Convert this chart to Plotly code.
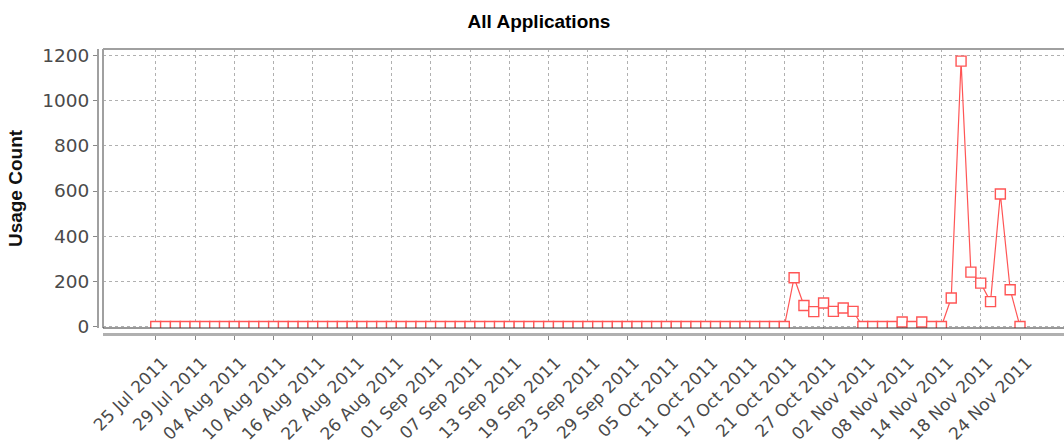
import pandas as pd
import plotly.graph_objects as go

# Weekday categories, 25 Jul 2011 .. 24 Nov 2011
dates = [d.strftime("%d %b %Y") for d in pd.bdate_range("2011-07-25", "2011-11-24")]

usage = [
    0, 0, 0, 0, 0, 0, 0, 0, 0, 0,
    0, 0, 0, 0, 0, 0, 0, 0, 0, 0,
    0, 0, 0, 0, 0, 0, 0, 0, 0, 0,
    0, 0, 0, 0, 0, 0, 0, 0, 0, 0,
    0, 0, 0, 0, 0, 0, 0, 0, 0, 0,
    0, 0, 0, 0, 0, 0, 0, 0, 0, 0,
    0, 0, 0, 0, 0,
    216, 93, 66, 104, 67, 82, 67,
    0, 0, 0, 0, 20, 0, 20, 0, 0,
    126, 1175, 241, 192, 110, 587, 163, 0,
]

title_text = "All Applications"
y_title = "Usage Count"
y_ticks = [0, 200, 400, 600, 800, 1000, 1200]

RED = "#FF5555"
GRID = "#b0b0b0"

W, H = 1064, 445
ml, mt, mb = 98, 49, 111
plot_left, plot_bottom = 103, 328
paper_w = W - ml
paper_h = H - mt - mb

fig = go.Figure()
fig.add_trace(go.Scatter(
    x=dates, y=usage, mode="lines+markers",
    line=dict(color=RED, width=1.2),
    marker=dict(symbol="square", size=10, color="white",
                line=dict(color=RED, width=1.4)),
    showlegend=False, cliponaxis=True,
))

x_tick_font = dict(family="DejaVu Sans", size=17, color="#4a4a4a")
y_tick_font = dict(family="DejaVu Sans", size=18.5, color="#4a4a4a")

fig.update_layout(
    template="none",
    width=W, height=H,
    margin=dict(l=ml, r=0, t=mt, b=mb, pad=0),
    paper_bgcolor="white", plot_bgcolor="white",
    title=dict(text=title_text, x=539 / W, xref="container", xanchor="center",
               y=1 - 21 / H, yref="container", yanchor="middle",
               font=dict(family="Liberation Sans", size=19, color="#000000",
                         weight="bold")),
    xaxis=dict(
        type="category",
        domain=[(plot_left - ml) / paper_w, 1],
        anchor="free", position=0,
        range=[-5.37, 92.48],
        tickmode="linear", tick0=0, dtick=4,
        tickangle=-45, tickfont=x_tick_font,
        ticks="outside", ticklen=4, tickcolor="#888888",
        ticklabelstandoff=6, ticklabelshift=7,
        showline=True, linecolor="#b0b0b0", linewidth=3,
        showgrid=True, gridcolor=GRID, gridwidth=1, griddash="3px,3px",
        zeroline=False, automargin=False,
    ),
    yaxis=dict(
        domain=[(H - mb - plot_bottom) / paper_h, 1],
        anchor="free", position=0,
        range=[-6.6, 1228.8],
        tickmode="array", tickvals=y_ticks,
        tickfont=y_tick_font,
        ticks="outside", ticklen=4, tickcolor="#888888",
        showline=True, linecolor="#a0a0a0", linewidth=2,
        showgrid=True, gridcolor=GRID, gridwidth=1, griddash="3px,3px",
        zeroline=False, automargin=False,
        title=dict(text=y_title, standoff=14,
                   font=dict(family="Liberation Sans", size=19, color="#111111",
                             weight="bold")),
    ),
    shapes=[
        dict(type="line", xref="x domain", yref="y domain", x0=0, x1=1.01, y0=1, y1=1,
             line=dict(color="#a0a0a0", width=2), layer="above"),
        dict(type="line", xref="x domain", yref="y domain", x0=0, x1=0, y0=0, y1=1,
             line=dict(color="#a0a0a0", width=2), layer="above"),
        dict(type="line", xref="x domain", yref="y domain", x0=0, x1=1.01, y0=0, y1=0,
             line=dict(color="#333333", width=1), layer="above"),
    ],
)

fig.write_html(
    "out.html",
    config={"displayModeBar": False},
    post_script="document.body.style.margin='0';document.body.style.padding='0';"
                "document.body.style.overflow='hidden';",
)
